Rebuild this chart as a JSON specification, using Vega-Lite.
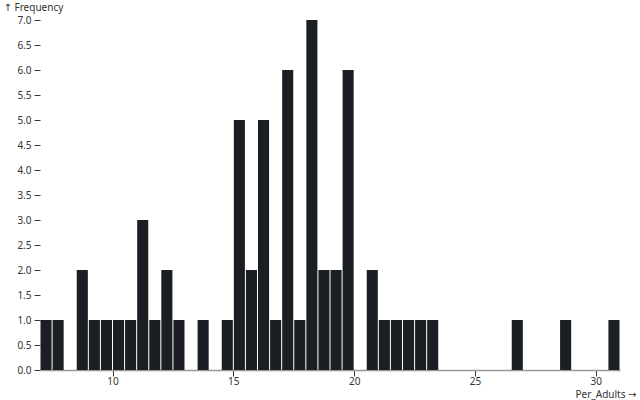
{
  "$schema": "https://vega.github.io/schema/vega-lite/v6.json",
  "width": 580,
  "height": 350,
  "autosize": {"type": "none"},
  "padding": {"left": 40, "top": 20, "right": 20, "bottom": 30},
  "background": "white",
  "config": {
    "view": {"stroke": null},
    "font": "Noto Sans",
    "axis": {"labelFont": "Noto Sans", "titleFont": "Noto Sans, DejaVu Sans", "labelFontSize": 10, "titleFontSize": 10, "labelColor": "#333", "titleColor": "#333", "titleFontWeight": "normal", "grid": false}
  },
  "data": {
    "values": [
      {"bin_start": 7.0, "bin_end": 7.5, "count": 1},
      {"bin_start": 7.5, "bin_end": 8.0, "count": 1},
      {"bin_start": 8.5, "bin_end": 9.0, "count": 2},
      {"bin_start": 9.0, "bin_end": 9.5, "count": 1},
      {"bin_start": 9.5, "bin_end": 10.0, "count": 1},
      {"bin_start": 10.0, "bin_end": 10.5, "count": 1},
      {"bin_start": 10.5, "bin_end": 11.0, "count": 1},
      {"bin_start": 11.0, "bin_end": 11.5, "count": 3},
      {"bin_start": 11.5, "bin_end": 12.0, "count": 1},
      {"bin_start": 12.0, "bin_end": 12.5, "count": 2},
      {"bin_start": 12.5, "bin_end": 13.0, "count": 1},
      {"bin_start": 13.5, "bin_end": 14.0, "count": 1},
      {"bin_start": 14.5, "bin_end": 15.0, "count": 1},
      {"bin_start": 15.0, "bin_end": 15.5, "count": 5},
      {"bin_start": 15.5, "bin_end": 16.0, "count": 2},
      {"bin_start": 16.0, "bin_end": 16.5, "count": 5},
      {"bin_start": 16.5, "bin_end": 17.0, "count": 1},
      {"bin_start": 17.0, "bin_end": 17.5, "count": 6},
      {"bin_start": 17.5, "bin_end": 18.0, "count": 1},
      {"bin_start": 18.0, "bin_end": 18.5, "count": 7},
      {"bin_start": 18.5, "bin_end": 19.0, "count": 2},
      {"bin_start": 19.0, "bin_end": 19.5, "count": 2},
      {"bin_start": 19.5, "bin_end": 20.0, "count": 6},
      {"bin_start": 20.5, "bin_end": 21.0, "count": 2},
      {"bin_start": 21.0, "bin_end": 21.5, "count": 1},
      {"bin_start": 21.5, "bin_end": 22.0, "count": 1},
      {"bin_start": 22.0, "bin_end": 22.5, "count": 1},
      {"bin_start": 22.5, "bin_end": 23.0, "count": 1},
      {"bin_start": 23.0, "bin_end": 23.5, "count": 1},
      {"bin_start": 26.5, "bin_end": 27.0, "count": 1},
      {"bin_start": 28.5, "bin_end": 29.0, "count": 1},
      {"bin_start": 30.5, "bin_end": 31.0, "count": 1}
    ]
  },
  "layer": [
    {
      "mark": {"type": "bar", "color": "#1b1e23", "xOffset": 0.5, "x2Offset": -0.5},
      "encoding": {
        "x": {
          "field": "bin_start", "type": "quantitative",
          "scale": {"domain": [7, 31], "nice": false, "zero": false},
          "axis": {
            "values": [10, 15, 20, 25, 30], "title": "Per_Adults →",
            "domain": true, "domainColor": "#999", "domainWidth": 1.5,
            "tickColor": "#333", "tickSize": 6, "labelPadding": 0,
            "titleAnchor": "end", "titleAlign": "right", "titleX": 596, "titleY": 27, "titleBaseline": "alphabetic"
          }
        },
        "x2": {"field": "bin_end"},
        "y": {
          "field": "count", "type": "quantitative",
          "scale": {"domain": [0, 7], "nice": false},
          "axis": {
            "values": [0, 0.5, 1, 1.5, 2, 2.5, 3, 3.5, 4, 4.5, 5, 5.5, 6, 6.5, 7],
            "format": ".1f", "title": "↑ Frequency", "domain": false,
            "tickColor": "#333", "tickSize": 6, "labelPadding": 3,
            "titleAngle": 0, "titleAlign": "left", "titleAnchor": "start",
            "titleX": -37, "titleY": -13, "titleBaseline": "middle"
          }
        },
        "y2": {"datum": 0}
      }
    }
  ]
}
